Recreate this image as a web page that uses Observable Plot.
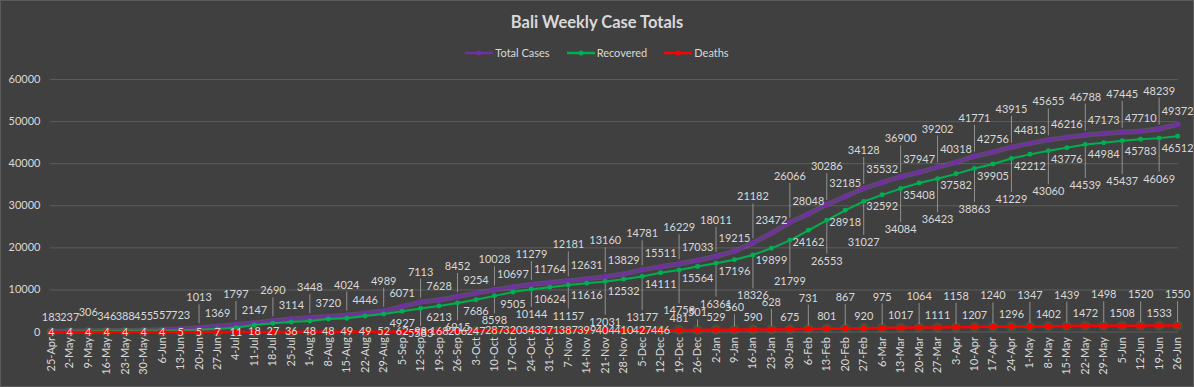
<!DOCTYPE html>
<html><head><meta charset="utf-8">
<script src="https://cdn.jsdelivr.net/npm/d3@7"></script>
<script src="https://cdn.jsdelivr.net/npm/@observablehq/plot@0.6"></script>
<style>
html,body{margin:0;padding:0;background:#404040;}
#wrap{width:1194px;height:387px;box-sizing:border-box;border:1px solid #5b5b5b;position:relative;overflow:hidden;font-family:Lato,"Open Sans",sans-serif;color:#d9d9d9;background:#404040;}
#title{position:absolute;top:10px;left:0;width:100%;text-align:center;font-weight:bold;font-size:16.5px;line-height:22px;}
#legend{position:absolute;top:46px;left:0;width:100%;display:flex;justify-content:center;gap:17px;font-size:11px;line-height:12px;}
#legend span.item{display:flex;align-items:center;}
#legend svg{margin-right:2px;}
#chart{position:absolute;top:69px;left:-1px;}
</style></head>
<body>
<div id="wrap">
  <div id="title">Bali Weekly Case Totals</div>
  <div id="legend"></div>
  <div id="chart"></div>
</div>
<script>
const dates = ["25-Apr","2-May","9-May","16-May","23-May","30-May","6-Jun","13-Jun","20-Jun","27-Jun","4-Jul","11-Jul","18-Jul","25-Jul","1-Aug","8-Aug","15-Aug","22-Aug","29-Aug","5-Sep","12-Sep","19-Sep","26-Sep","3-Oct","10-Oct","17-Oct","24-Oct","31-Oct","7-Nov","14-Nov","21-Nov","28-Nov","5-Dec","12-Dec","19-Dec","26-Dec","2-Jan","9-Jan","16-Jan","23-Jan","30-Jan","6-Feb","13-Feb","20-Feb","27-Feb","6-Mar","13-Mar","20-Mar","27-Mar","3-Apr","10-Apr","17-Apr","24-Apr","1-May","8-May","15-May","22-May","29-May","5-Jun","12-Jun","19-Jun","26-Jun"];

const totalCases = [183,237,306,346,388,455,557,723,1013,1369,1797,2147,2690,3114,3448,3720,4024,4446,4989,6071,7113,7628,8452,9254,10028,10697,11279,11764,12181,12631,13160,13829,14781,15511,16229,17033,18011,19215,21182,23472,26066,28048,30286,32185,34128,35532,36900,37947,39202,40318,41771,42756,43915,44813,45655,46216,46788,47173,47445,47710,48239,49372];

const recovered = [90,150,230,270,310,330,370,420,520,700,1000,1700,2100,2400,2600,3100,3300,3800,4300,4927,5583,6213,6915,7686,8598,9505,10144,10624,11157,11616,12031,12532,13177,14111,14758,15564,16361,17196,18326,19899,21799,24162,26553,28918,31027,32592,34084,35408,36423,37582,38863,39905,41229,42212,43060,43776,44539,44984,45437,45783,46069,46512];

const deaths = [4,4,4,4,4,4,4,5,5,7,11,18,27,36,48,48,49,49,52,62,98,168,206,247,287,320,343,371,387,399,404,410,427,446,481,501,529,560,590,628,675,731,801,867,920,975,1017,1064,1111,1158,1207,1240,1296,1347,1402,1439,1472,1498,1508,1520,1533,1550];

const seriesNames = ["Total Cases","Recovered","Deaths"];
const seriesColors = ["#7030a0","#00b050","#ff0000"];
const yTicks = [0,10000,20000,30000,40000,50000,60000];

// legend
const leg = document.getElementById("legend");
seriesNames.forEach((n,i)=>{
  const s = document.createElement("span"); s.className="item";
  s.innerHTML = `<svg width="28" height="10"><line x1="0" x2="28" y1="5" y2="5" stroke="${seriesColors[i]}" stroke-width="2.5"/><circle cx="14" cy="5" r="2.5" fill="${seriesColors[i]}"/></svg>${n}`;
  leg.appendChild(s);
});

const rows = dates.map((d,i)=>({i, date:d, total:totalCases[i], rec:recovered[i], death:deaths[i]}));

const W = 1195, H = 317, mt = 9, mb = 55, ml = 50, mr = 15;
const u = 60000 / (H - mt - mb); // data units per pixel

// label offsets (pixels; positive = upward)
const totOff = i => i < 8 ? (i === 2 ? 18 : 14) : (i % 2 === 1 ? 13 : (i < 28 ? 30 : i < 38 ? 36 : i < 42 ? 46 : 38));
const recOff = i => i % 2 === 1 ? 12 : (i < 28 ? 25 : i < 30 ? 31 : 41); // downward
const dthOff = i => i <= 33 ? 0 : (i % 2 === 0 ? 12 : Math.min(31, 17 + (i - 35) * 2.5));

const totLead = rows.filter(d => d.i >= 8 && d.i % 2 === 0);
const recLead = rows.filter(d => d.i >= 19 && d.i % 2 === 0);
const dthLead = rows.filter(d => d.i >= 35 && d.i % 2 === 1);
const recLabels = rows.filter(d => d.i >= 19);

const txt = {fill:"#d9d9d9", fontSize:11, fontFamily:"Lato, 'Open Sans', sans-serif"};
const lead = {stroke:"#a6a6a6", strokeWidth:0.8};

const chart = Plot.plot({
  width: W, height: H,
  marginTop: mt, marginBottom: mb, marginLeft: ml, marginRight: mr,
  style: {background:"transparent", color:"#d9d9d9", fontSize:"11px", fontFamily:"Lato, 'Open Sans', sans-serif"},
  x: {type:"point", domain: dates, padding: 0.05, tickRotate:-90, tickSize:0, tickPadding:5, label:null},
  y: {domain:[0,60000], ticks: yTicks, tickSize:0, tickPadding:10, tickFormat: d => String(d), label:null},
  marks: [
    Plot.ruleY(yTicks, {stroke:"#5c5c5c", strokeWidth:1}),
    Plot.line(rows, {x:"date", y:"total", stroke:"#a47bc8", strokeWidth:5, strokeOpacity:0.25}),
    Plot.line(rows, {x:"date", y:"total", stroke:seriesColors[0], strokeWidth:2.5}),
    Plot.dot(rows, {x:"date", y:"total", r:3, fill:seriesColors[0]}),
    Plot.line(rows, {x:"date", y:"rec", stroke:seriesColors[1], strokeWidth:2}),
    Plot.dot(rows, {x:"date", y:"rec", r:2.5, fill:seriesColors[1]}),
    Plot.dot(rows, {x:"date", y:"death", r:5, fill:"#3a8a3a", fillOpacity:0.35}),
    Plot.line(rows, {x:"date", y:"death", stroke:seriesColors[2], strokeWidth:2.5}),
    Plot.dot(rows, {x:"date", y:"death", r:3, fill:seriesColors[2]}),
    // leader lines
    Plot.ruleX(totLead, {x:"date", y1: d => d.total + 4*u, y2: d => d.total + (totOff(d.i)-7)*u, ...lead}),
    Plot.ruleX(recLead, {x:"date", y1: d => d.rec - 3*u, y2: d => d.rec - (recOff(d.i)-7)*u, ...lead}),
    Plot.ruleX(dthLead, {x:"date", y1: d => d.death + 3*u, y2: d => d.death + (dthOff(d.i)-7)*u, ...lead}),
    // labels
    Plot.text(rows, {x:"date", y: d => d.total + totOff(d.i)*u, text: d => String(d.total), ...txt}),
    Plot.text(recLabels, {x:"date", y: d => d.rec - recOff(d.i)*u, text: d => String(d.rec), ...txt}),
    Plot.text(rows, {x:"date", y: d => d.death + dthOff(d.i)*u, text: d => String(d.death), ...txt})
  ]
});
document.getElementById("chart").appendChild(chart);
</script>
</body></html>
